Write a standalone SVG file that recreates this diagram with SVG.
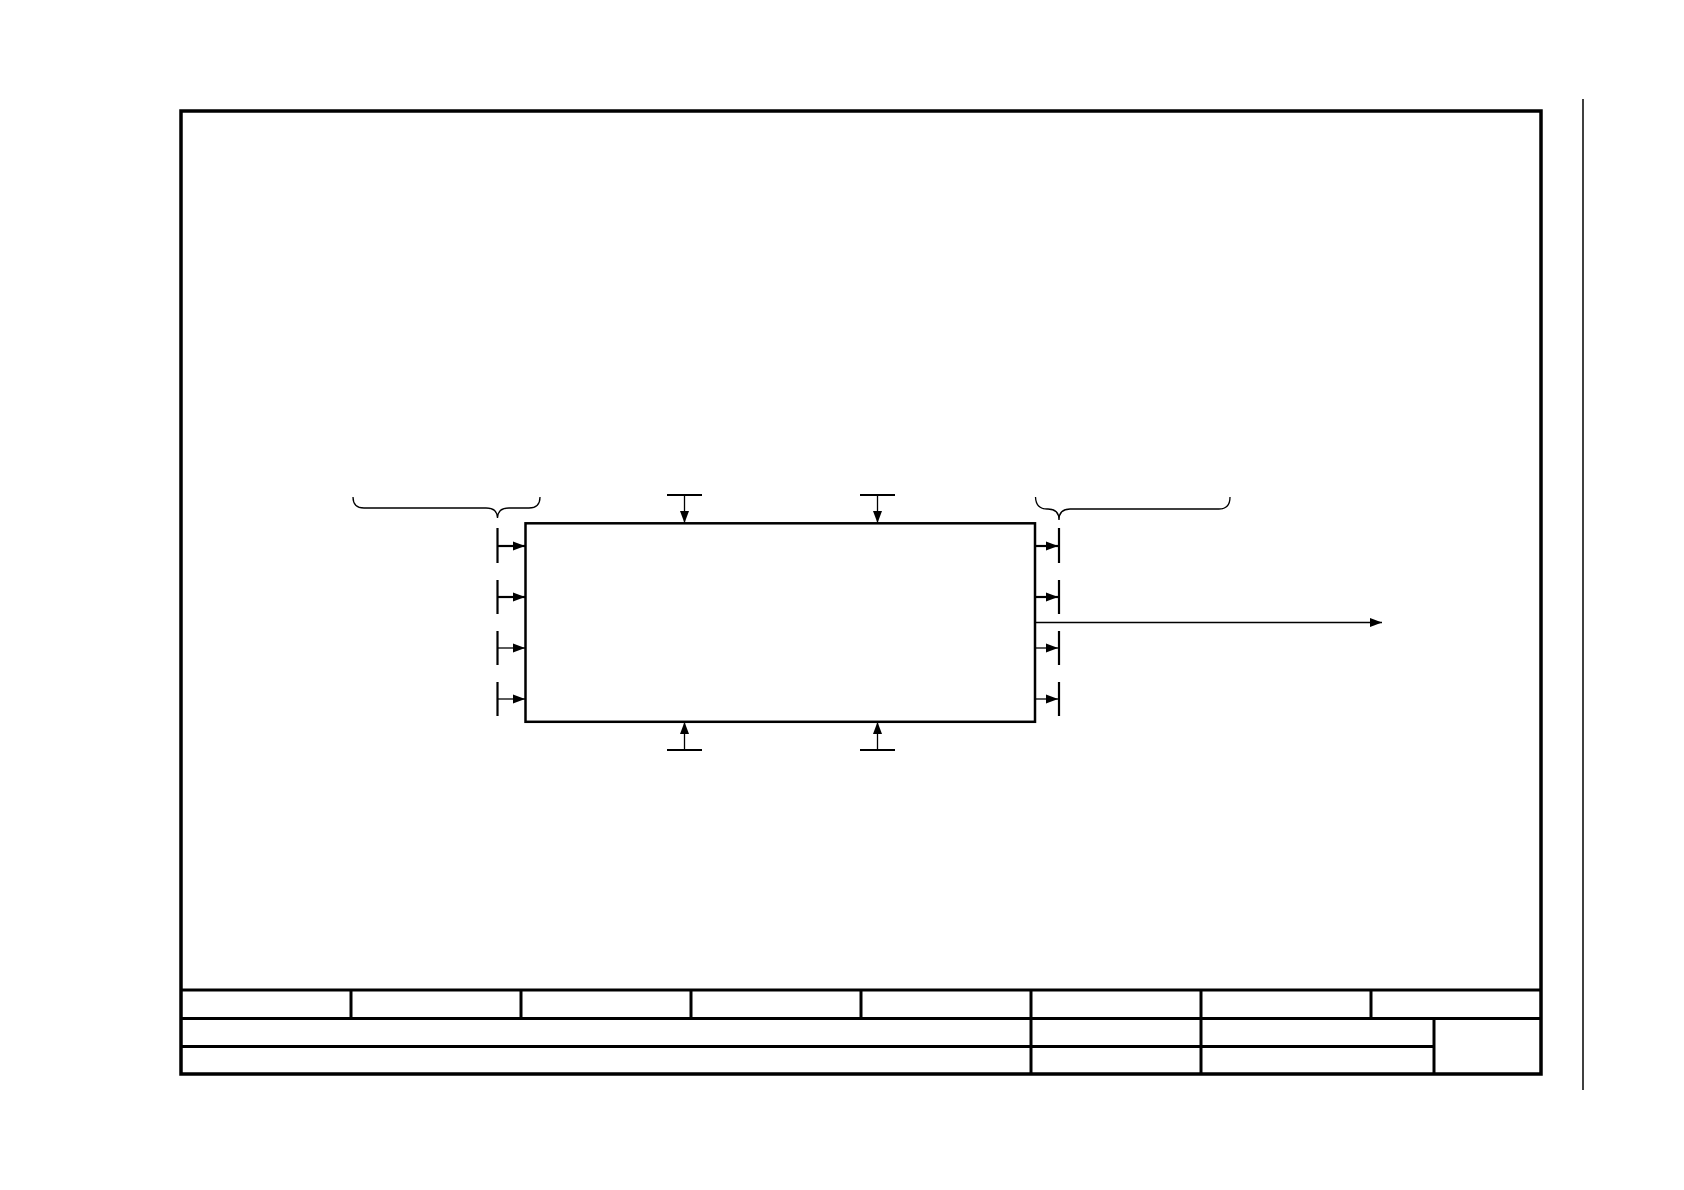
<svg xmlns="http://www.w3.org/2000/svg" width="1684" height="1190" viewBox="0 0 1684 1190">
<style>
.frame{fill:none;stroke:#000;stroke-width:3.5}
.tb{fill:none;stroke:#000;stroke-width:3}
.box{fill:#fff;stroke:#000;stroke-width:2.5}
.bar{fill:none;stroke:#000;stroke-width:2.2}
.thick{fill:none;stroke:#000;stroke-width:2.2}
.thin{fill:none;stroke:#000;stroke-width:1.3}
.brace{fill:none;stroke:#000;stroke-width:1.3}
</style>
<defs>
<marker id="ah" markerUnits="userSpaceOnUse" markerWidth="12" markerHeight="10" viewBox="0 0 12 10" refX="12" refY="5" orient="auto">
<path d="M0,0.5 L12,5 L0,9.5 Z" fill="#000"/>
</marker>
</defs>
<rect width="1684" height="1190" fill="#fff"/>
<g id="frame">
<rect class="frame" x="181" y="111" width="1360" height="963"/>
<line x1="1583" y1="99" x2="1583" y2="1090" stroke="#000" stroke-width="1.5"/>
</g>
<g id="title-block">
<line class="tb" x1="181" y1="990" x2="1541" y2="990"/>
<line class="tb" x1="181" y1="1018.5" x2="1541" y2="1018.5"/>
<line class="tb" x1="181" y1="1046.5" x2="1434" y2="1046.5"/>
<line class="tb" x1="351" y1="990" x2="351" y2="1018.5"/>
<line class="tb" x1="521" y1="990" x2="521" y2="1018.5"/>
<line class="tb" x1="691" y1="990" x2="691" y2="1018.5"/>
<line class="tb" x1="861" y1="990" x2="861" y2="1018.5"/>
<line class="tb" x1="1031" y1="990" x2="1031" y2="1074"/>
<line class="tb" x1="1201" y1="990" x2="1201" y2="1074"/>
<line class="tb" x1="1371" y1="990" x2="1371" y2="1018.5"/>
<line class="tb" x1="1434" y1="1018.5" x2="1434" y2="1074"/>
</g>
<g id="process">
<rect class="box" x="525.5" y="523.3" width="509.5" height="198.5"/>
</g>
<g id="input-brace">
<path class="brace" d="M353,497 Q353,508 364,508 L486,508 Q497.5,508 497.5,518 Q497.5,508 509,508 L529,508 Q540,508 540,497"/>
</g>
<g id="output-brace">
<path class="brace" d="M1035.5,497 Q1036,509 1047,509 L1048,509 Q1059,509 1059,520 Q1059,509 1070,509 L1219,509 Q1230,509 1230,497"/>
</g>
<g id="inputs">
<line class="bar" x1="497.5" y1="528" x2="497.5" y2="563"/>
<line class="bar" x1="497.5" y1="580" x2="497.5" y2="614"/>
<line class="bar" x1="497.5" y1="631" x2="497.5" y2="665"/>
<line class="bar" x1="497.5" y1="682" x2="497.5" y2="716"/>
</g>
<g id="outputs">
<line class="bar" x1="1059" y1="528" x2="1059" y2="563"/>
<line class="bar" x1="1059" y1="580" x2="1059" y2="614"/>
<line class="bar" x1="1059" y1="631" x2="1059" y2="665"/>
<line class="bar" x1="1059" y1="682" x2="1059" y2="716"/>
</g>
<g id="controls">
<line class="bar" x1="667" y1="495" x2="702" y2="495"/>
<line class="bar" x1="860" y1="495" x2="895" y2="495"/>
</g>
<g id="mechanisms">
<line class="bar" x1="667" y1="750" x2="702" y2="750"/>
<line class="bar" x1="860" y1="750" x2="895" y2="750"/>
</g>
<g id="connectors">
<line class="thick" x1="497.5" y1="546" x2="525" y2="546" marker-end="url(#ah)"/>
<line class="thick" x1="497.5" y1="597" x2="525" y2="597" marker-end="url(#ah)"/>
<line class="thin" x1="497.5" y1="648" x2="525" y2="648" marker-end="url(#ah)"/>
<line class="thin" x1="497.5" y1="699" x2="525" y2="699" marker-end="url(#ah)"/>
<line class="thick" x1="1035" y1="546" x2="1058" y2="546" marker-end="url(#ah)"/>
<line class="thick" x1="1035" y1="597" x2="1058" y2="597" marker-end="url(#ah)"/>
<line class="thin" x1="1035" y1="648" x2="1058" y2="648" marker-end="url(#ah)"/>
<line class="thin" x1="1035" y1="699" x2="1058" y2="699" marker-end="url(#ah)"/>
<line class="thin" x1="1035" y1="622.5" x2="1382" y2="622.5" marker-end="url(#ah)"/>
<line class="thin" x1="684.5" y1="495" x2="684.5" y2="523" marker-end="url(#ah)"/>
<line class="thin" x1="877.5" y1="495" x2="877.5" y2="523" marker-end="url(#ah)"/>
<line class="thin" x1="684.5" y1="750" x2="684.5" y2="722" marker-end="url(#ah)"/>
<line class="thin" x1="877.5" y1="750" x2="877.5" y2="722" marker-end="url(#ah)"/>
</g>
</svg>
